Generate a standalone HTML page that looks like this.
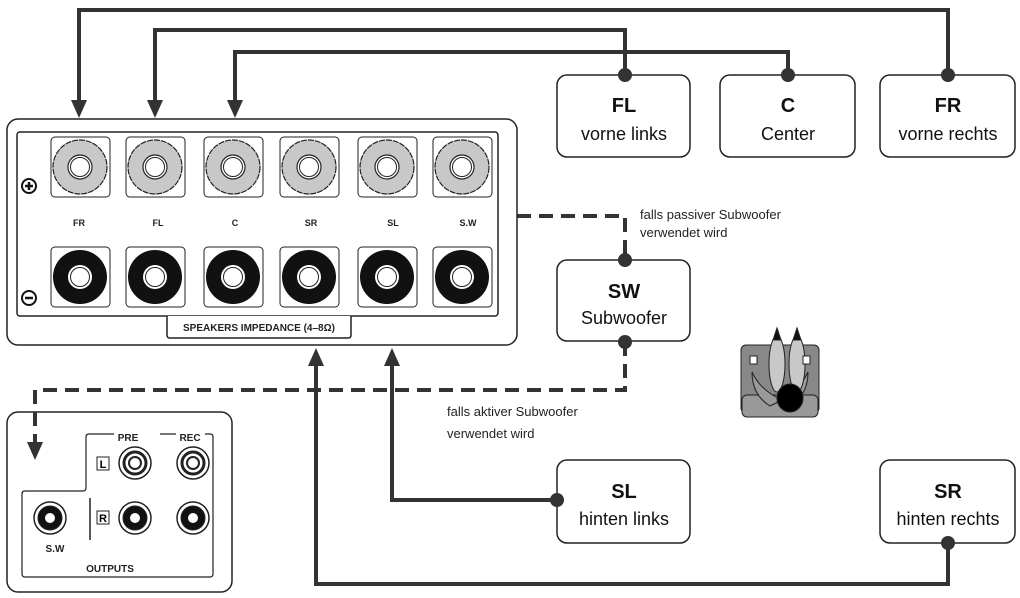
<!DOCTYPE html>
<html><head><meta charset="utf-8"><style>
html,body{margin:0;padding:0;background:#fff;width:1020px;height:598px;overflow:hidden}
svg{display:block}
text{font-family:"Liberation Sans",sans-serif}
</style></head><body>
<svg width="1020" height="598" viewBox="0 0 1020 598" xmlns="http://www.w3.org/2000/svg">
<defs>
<g id="pos"><rect x="-29" y="-30" width="59" height="60" rx="4" fill="#fff" stroke="#222" stroke-width="1"/>
<circle r="27" fill="#c8c8c8" stroke="#222" stroke-width="1.2" stroke-dasharray="6 1"/>
<circle r="12" fill="#fff" stroke="#222" stroke-width="1.2"/><circle r="9.5" fill="none" stroke="#222" stroke-width="1"/></g>
<g id="neg"><rect x="-29" y="-30" width="59" height="60" rx="4" fill="#fff" stroke="#222" stroke-width="1"/>
<circle r="27" fill="#111"/>
<circle r="12" fill="#fff"/><circle r="9.5" fill="none" stroke="#222" stroke-width="1"/></g>
</defs>
<g fill="none" stroke="#333" stroke-width="4">
<polyline points="948,75 948,10 79,10 79,105"/>
<polyline points="625,75 625,30 155,30 155,105"/>
<polyline points="788,75 788,52 235,52 235,105"/>
<polyline points="556,500 392,500 392,360"/>
<polyline points="948,544 948,584 316,584 316,360"/>
<polyline points="517,216 625,216 625,259" stroke-dasharray="14 8"/>
</g>
<g fill="#333">
<polygon points="71,100 87,100 79,118"/><polygon points="147,100 163,100 155,118"/><polygon points="227,100 243,100 235,118"/>
<polygon points="384,366 400,366 392,348"/><polygon points="308,366 324,366 316,348"/>
</g>
<rect x="7" y="119" width="510" height="226" rx="11" fill="#fff" stroke="#222" stroke-width="1.5"/>
<rect x="17" y="132" width="481" height="184" rx="3" fill="#fff" stroke="#222" stroke-width="1.5"/>
<path d="M167,316 V335 Q167,338 170,338 H348 Q351,338 351,335 V316" fill="#fff" stroke="#222" stroke-width="1.5"/>
<text x="259" y="331" font-size="10" font-weight="bold" text-anchor="middle" fill="#222">SPEAKERS IMPEDANCE (4–8Ω)</text>
<use href="#pos" x="80" y="167"/><use href="#pos" x="155" y="167"/><use href="#pos" x="233" y="167"/><use href="#pos" x="309" y="167"/><use href="#pos" x="387" y="167"/><use href="#pos" x="462" y="167"/>
<use href="#neg" x="80" y="277"/><use href="#neg" x="155" y="277"/><use href="#neg" x="233" y="277"/><use href="#neg" x="309" y="277"/><use href="#neg" x="387" y="277"/><use href="#neg" x="462" y="277"/>
<g font-size="9" font-weight="bold" fill="#222" text-anchor="middle">
<text x="79" y="226">FR</text><text x="158" y="226">FL</text><text x="235" y="226">C</text><text x="311" y="226">SR</text><text x="393" y="226">SL</text><text x="468" y="226">S.W</text></g>
<circle cx="29" cy="186" r="7" fill="#fff" stroke="#111" stroke-width="2"/><path d="M25,186h8M29,182v8" stroke="#111" stroke-width="2.5"/>
<circle cx="29" cy="298" r="7" fill="#fff" stroke="#111" stroke-width="2"/><path d="M25,298h8" stroke="#111" stroke-width="2.5"/>
<rect x="7" y="412" width="225" height="180" rx="11" fill="#fff" stroke="#222" stroke-width="1.5"/>
<path d="M114,434 H89 Q86,434 86,437 V488 Q86,491 83,491 H25 Q22,491 22,494 V574 Q22,577 25,577 H210 Q213,577 213,574 V437 Q213,434 210,434 H205 M176,434 H160" fill="none" stroke="#222" stroke-width="1.2"/>
<line x1="90" y1="498" x2="90" y2="540" stroke="#222" stroke-width="1.5"/>
<g font-size="10" font-weight="bold" fill="#222" text-anchor="middle">
<text x="128" y="441">PRE</text><text x="190" y="441">REC</text><text x="55" y="552">S.W</text><text x="110" y="572">OUTPUTS</text></g>
<rect x="97" y="457" width="12" height="13" fill="#fff" stroke="#222"/><text x="103" y="468" font-size="11" font-weight="bold" text-anchor="middle">L</text>
<rect x="97" y="511" width="12" height="13" fill="#fff" stroke="#222"/><text x="103" y="522" font-size="11" font-weight="bold" text-anchor="middle">R</text>
<g stroke="#222" fill="#fff">
<circle cx="135" cy="463" r="16" stroke-width="1.5"/><circle cx="135" cy="463" r="11" stroke-width="3"/><circle cx="135" cy="463" r="6" stroke-width="2"/>
<circle cx="193" cy="463" r="16" stroke-width="1.5"/><circle cx="193" cy="463" r="11" stroke-width="3"/><circle cx="193" cy="463" r="6" stroke-width="2"/>
<circle cx="135" cy="518" r="16" stroke-width="1.5"/><circle cx="135" cy="518" r="12" fill="#111"/><circle cx="135" cy="518" r="5" stroke="none"/>
<circle cx="193" cy="518" r="16" stroke-width="1.5"/><circle cx="193" cy="518" r="12" fill="#111"/><circle cx="193" cy="518" r="5" stroke="none"/>
<circle cx="50" cy="518" r="16" stroke-width="1.5"/><circle cx="50" cy="518" r="12" fill="#111"/><circle cx="50" cy="518" r="5" stroke="none"/>
</g>
<polyline points="625,342 625,390 35,390 35,446" fill="none" stroke="#333" stroke-width="4" stroke-dasharray="14 8"/>
<polygon points="27,442 43,442 35,460" fill="#333"/>
<g fill="#fff" stroke="#222" stroke-width="1.5">
<rect x="557" y="75" width="133" height="82" rx="10"/><rect x="720" y="75" width="135" height="82" rx="10"/><rect x="880" y="75" width="135" height="82" rx="10"/>
<rect x="557" y="260" width="133" height="81" rx="10"/><rect x="557" y="460" width="133" height="83" rx="10"/><rect x="880" y="460" width="135" height="83" rx="10"/>
</g>
<g fill="#111" text-anchor="middle">
<text x="624" y="112" font-size="20" font-weight="bold">FL</text><text x="624" y="140" font-size="18">vorne links</text>
<text x="788" y="112" font-size="20" font-weight="bold">C</text><text x="788" y="140" font-size="18">Center</text>
<text x="948" y="112" font-size="20" font-weight="bold">FR</text><text x="948" y="140" font-size="18">vorne rechts</text>
<text x="624" y="298" font-size="20" font-weight="bold">SW</text><text x="624" y="324" font-size="18">Subwoofer</text>
<text x="624" y="498" font-size="20" font-weight="bold">SL</text><text x="624" y="525" font-size="18">hinten links</text>
<text x="948" y="498" font-size="20" font-weight="bold">SR</text><text x="948" y="525" font-size="18">hinten rechts</text>
</g>
<g fill="#333"><circle cx="625" cy="75" r="7"/><circle cx="788" cy="75" r="7"/><circle cx="948" cy="75" r="7"/>
<circle cx="625" cy="260" r="7"/><circle cx="625" cy="342" r="7"/><circle cx="557" cy="500" r="7"/><circle cx="948" cy="543" r="7"/></g>
<g font-size="13" fill="#222">
<text x="640" y="219">falls passiver Subwoofer</text><text x="640" y="237">verwendet wird</text>
<text x="447" y="416">falls aktiver Subwoofer</text><text x="447" y="438">verwendet wird</text></g>
<g stroke="#222" stroke-width="1">
<rect x="741" y="345" width="78" height="68" rx="5" fill="#888"/>
<rect x="742" y="395" width="76" height="22" rx="5" fill="#999"/>
<path d="M752,372 Q760,390 782,400 L770,406 Q752,395 752,372Z" fill="#999"/>
<path d="M808,372 Q800,390 778,400 L790,406 Q808,395 808,372Z" fill="#999"/>
<ellipse cx="777" cy="364" rx="8" ry="28" fill="#c8c8c8"/><ellipse cx="797" cy="364" rx="8" ry="28" fill="#c8c8c8"/>
<path d="M773,340 L777,328 L781,340Z" fill="#111"/><path d="M793,340 L797,328 L801,340Z" fill="#111"/>
<rect x="750" y="356" width="7" height="8" fill="#fff"/><rect x="803" y="356" width="7" height="8" fill="#fff"/>
<ellipse cx="790" cy="398" rx="13" ry="14" fill="#000"/>
</g>
</svg>
</body></html>
